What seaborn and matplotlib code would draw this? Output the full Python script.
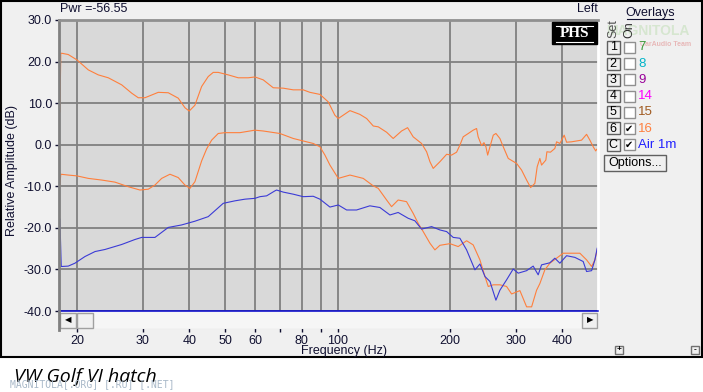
import numpy as np
import pandas as pd
import seaborn as sns
import matplotlib
matplotlib.use("Agg")
import matplotlib.pyplot as plt
from matplotlib.patches import Rectangle
from matplotlib.lines import Line2D
from matplotlib.ticker import NullLocator

# upper orange trace
freq_top = [18.0, 18.1, 18.2, 18.95, 20.0, 21.45, 22.81, 24.27, 26.36, 28.04, 29.2, 30.43,
            33.04, 35.14, 37.37, 38.95, 40.0, 41.43, 43.18, 44.98, 46.39, 47.84, 50.88,
            54.13, 57.58, 60.0, 63.16, 67.19, 71.47, 76.03, 80.85, 84.26, 89.65, 94.36,
            98.3, 100.4, 107.9, 114.7, 119.6, 124.6, 128.5, 135.3, 140.9, 148.4, 154.0,
            159.4, 167.9, 173.2, 176.8, 180.4, 188.0, 196.0, 202.0, 208.4, 212.7, 217.1,
            224.0, 230.9, 235.8, 238.1, 243.2, 246.8, 249.8, 252.5, 256.1, 261.4, 265.7,
            272.3, 278.0, 286.7, 301.9, 311.3, 321.1, 329.2, 337.9, 342.8, 348.5, 352.2,
            361.6, 364.0, 372.0, 382.3, 386.4, 394.3, 405.0, 411.0, 424.0, 437.2, 450.9,
            465.0, 474.6, 484.5, 492.0, 495.0]
db_top = [7.9, 22.0, 22.0, 21.7, 20.4, 18.0, 16.8, 16.1, 14.4, 12.4, 11.3, 11.3,
          12.6, 12.5, 11.2, 8.9, 8.1, 9.5, 14.0, 16.4, 17.4, 17.4, 16.8,
          16.1, 16.1, 16.3, 15.6, 13.7, 13.6, 13.2, 13.2, 12.6, 12.1, 10.3,
          7.1, 6.3, 8.2, 7.3, 6.3, 4.5, 4.3, 3.0, 1.5, 3.3, 4.1,
          1.9, 0.3, -1.7, -4.1, -5.7, -4.1, -2.3, -2.5, -1.8, -0.1, 1.9,
          2.7, 3.5, 3.9, 1.9, -0.2, 0.5, -0.5, -2.5, -0.5, 2.3, 2.7,
          1.5, -0.5, -3.3, -4.5, -6.1, -8.5, -10.3, -9.3, -5.3, -3.3, -4.9,
          -3.7, -1.7, -1.8, -0.9, 0.7, 0.3, 2.3, 0.6, 0.7, 0.9, 1.1,
          2.5, 1.1, -0.5, -1.5, -1.1]

# middle orange trace
freq_mid = [18.0, 18.1, 18.95, 20.0, 21.45, 23.3, 25.29, 27.45, 29.51, 31.06, 32.37, 33.74,
            35.51, 37.37, 38.95, 40.18, 41.43, 43.18, 44.54, 45.93, 47.84, 49.86, 54.7,
            60.0, 63.16, 70.0, 76.03, 80.85, 86.0, 89.65, 92.46, 95.35, 100.4, 107.9,
            117.1, 124.6, 128.5, 135.3, 139.5, 145.3, 153.0, 159.4, 164.4, 169.6, 176.8,
            182.3, 188.0, 200.0, 210.5, 221.7, 230.9, 240.7, 248.3, 253.4, 261.4, 272.3,
            283.8, 292.7, 308.1, 314.4, 321.1, 331.2, 341.5, 348.5, 359.4, 370.7, 386.4,
            402.5, 428.1, 446.2, 465.0, 479.7, 489.5, 496.5]
db_mid = [-9.7, -7.1, -7.3, -7.5, -8.1, -8.5, -9.0, -10.1, -10.9, -10.7, -9.7, -8.1,
          -7.1, -7.9, -9.7, -10.5, -8.9, -3.9, -1.0, 1.1, 2.7, 2.9, 2.9,
          3.5, 3.3, 2.7, 1.5, 0.9, 0.3, -0.5, -2.5, -4.9, -8.1, -7.3,
          -8.1, -9.9, -10.5, -13.3, -14.9, -13.3, -13.7, -16.5, -18.9, -20.9, -23.7,
          -25.3, -24.2, -23.8, -24.5, -23.1, -24.1, -27.7, -31.7, -34.1, -33.7, -33.7,
          -34.1, -35.9, -35.1, -37.0, -39.0, -39.0, -35.0, -33.4, -30.1, -28.5, -27.3,
          -26.1, -26.1, -26.1, -27.7, -29.3, -27.7, -25.3]

# blue trace (Air 1m)
freq_air = [18.0, 18.15, 18.95, 19.75, 21.01, 22.36, 23.78, 26.36, 28.61, 29.82, 32.37, 35.14,
            38.16, 41.43, 44.98, 49.34, 53.04, 56.42, 60.0, 61.88, 64.5, 67.89, 68.61,
            71.47, 76.03, 80.85, 86.0, 89.65, 95.35, 100.4, 105.7, 112.4, 122.0, 129.8,
            138.1, 145.3, 154.6, 161.1, 167.9, 178.6, 188.0, 196.0, 204.1, 212.7, 221.7,
            233.4, 240.7, 248.3, 256.1, 265.7, 272.3, 283.8, 295.6, 304.9, 321.1, 334.4,
            344.9, 352.2, 370.7, 382.3, 394.3, 411.0, 432.6, 455.4, 465.0, 479.7, 489.5,
            496.5]
db_air = [-17.9, -29.3, -29.2, -28.5, -26.9, -25.7, -25.2, -24.0, -22.8, -22.3, -22.3, -19.9,
          -19.3, -18.4, -17.3, -14.1, -13.5, -13.1, -12.9, -12.5, -12.3, -11.1, -10.9,
          -11.4, -11.9, -12.5, -12.4, -13.1, -15.0, -14.5, -15.7, -15.7, -14.7, -15.1,
          -16.9, -16.3, -17.7, -18.3, -20.3, -19.7, -20.5, -20.9, -22.3, -22.5, -25.3,
          -30.1, -28.7, -31.7, -32.9, -37.4, -35.0, -32.5, -29.9, -30.9, -30.3, -29.2,
          -31.3, -28.9, -28.4, -27.3, -28.5, -26.7, -27.1, -28.1, -30.5, -30.3, -27.7,
          -24.9]

x_ticks = [20, 30, 40, 50, 60, 70, 80, 90, 100, 200, 300, 400]
x_labels = ["20", "30", "40", "50", "60", "", "80", "", "100", "200", "300", "400"]
y_ticks = [-40, -30, -20, -10, 0, 10, 20, 30]

overlay_sets = ["1", "2", "3", "4", "5", "6", "C"]
overlay_names = ["7", "8", "9", "14", "15", "16", "Air 1m"]
overlay_colors = ["#3a9a3a", "#00b4c8", "#990099", "#ff00ff", "#a05a20", "#ff8040", "#2020ff"]
overlay_on = [False, False, False, False, False, True, True]

df = pd.concat([
    pd.DataFrame({"freq": freq_top, "db": db_top, "trace": "top"}),
    pd.DataFrame({"freq": freq_mid, "db": db_mid, "trace": "mid"}),
    pd.DataFrame({"freq": freq_air, "db": db_air, "trace": "air"}),
])
palette = {"top": "#ff7f3c", "mid": "#ff7f3c", "air": "#3b3bd6"}

W, H = 703, 392
plt.rcParams['font.family'] = ['Liberation Sans', 'DejaVu Sans']
fig = plt.figure(figsize=(W / 100, H / 100), dpi=100)
fig.patch.set_facecolor('white')


def fx(x):
    return x / W


def fy(y):
    return 1 - y / H


def box(x0, y0, x1, y1, fc, ec, lw=1.0, z=1):
    fig.add_artist(Rectangle((fx(x0), fy(y1)), (x1 - x0) / W, (y1 - y0) / H,
                             transform=fig.transFigure, facecolor=fc, edgecolor=ec,
                             lw=lw, zorder=z))


# window frame
box(0.5, 0.5, 702, 357, '#f0f0f0', 'black', lw=1.5, z=-2)

ax = fig.add_axes([fx(59), fy(311), (598 - 59) / W, (311 - 20) / H])
ax.set_facecolor('#d9d9d9')
sns.lineplot(data=df, x="freq", y="db", hue="trace", palette=palette, estimator=None,
             sort=False, legend=False, lw=0.8, ax=ax)
ax.set_xscale('log')
ax.set_xlim(17.9, 499)
ax.set_ylim(-40, 30)
ax.set_xticks(x_ticks)
ax.set_xticklabels(x_labels)
ax.xaxis.set_minor_locator(NullLocator())
ax.set_yticks(y_ticks)
ax.set_yticklabels([f"{v:.1f}" for v in y_ticks])
ax.grid(True, color='#808080', lw=1.3)
ax.set_axisbelow(True)
ax.axhline(-40, color='#0000cc', lw=1.1, zorder=5, clip_on=False)
ax.tick_params(axis='both', labelsize=9, colors='#101030', length=3, width=1, pad=2)
ax.set_xlabel("")
ax.set_ylabel("")
ax.spines['bottom'].set_position(('outward', 12.5))
ax.spines['bottom'].set_color('#e2e2e2')
ax.spines['left'].set_color('#808080')
ax.spines['left'].set_linewidth(2)
ax.spines['top'].set_color('#909090')
ax.spines['top'].set_linewidth(2)
ax.spines['right'].set_color('white')
ax.spines['right'].set_linewidth(2)

# scrollbar strip
box(60, 312, 598, 328, '#f6f6f6', '#f6f6f6', lw=0.5)
fig.add_artist(Line2D([fx(59), fx(59)], [fy(311), fy(330)], transform=fig.transFigure,
                      color='#808080', lw=2))
box(60, 312.5, 76, 327.5, '#f0f0f0', '#a0a0a0')
box(77, 312.5, 93, 327.5, '#f0f0f0', '#a0a0a0')
box(582, 312.5, 597, 327.5, '#f0f0f0', '#a0a0a0')
fig.text(fx(68), fy(320), "\u25c0", fontsize=6, ha='center', va='center', family='DejaVu Sans')
fig.text(fx(590), fy(320), "\u25b6", fontsize=6, ha='center', va='center', family='DejaVu Sans')

fig.text(fx(344), fy(351), "Frequency (Hz)", fontsize=9, ha='center', va='center', color='#101030')
fig.text(fx(12), fy(170), "Relative Amplitude (dB)", fontsize=9, ha='center', va='center',
         rotation=90, color='#101030')
fig.text(fx(60), fy(9), "Pwr =-56.55", fontsize=9, ha='left', va='center', color='#101030')
fig.text(fx(598), fy(9), "Left", fontsize=9, ha='right', va='center', color='#101030')

# PHS badge
box(552, 22, 597, 44, 'black', 'black', z=3)
fig.text(fx(574.5), fy(33.5), "PHS", fontsize=11, ha='center', va='center', color='white',
         weight='bold', family='Liberation Serif', zorder=4)
for yy in (25.5, 41.5):
    fig.add_artist(Line2D([fx(556), fx(593)], [fy(yy), fy(yy)], transform=fig.transFigure,
                          color='white', lw=0.8, zorder=4))

# overlays panel
fig.text(fx(606), fy(31), "MAGNITOLA", fontsize=10, weight='bold', color='#d6e6d0',
         ha='left', va='center', zorder=0)
fig.text(fx(640), fy(44), "CarAudio Team", fontsize=5, weight='bold', color='#e8b8b8',
         ha='left', va='center', zorder=0)
fig.text(fx(650), fy(13), "Overlays", fontsize=9, ha='center', va='center', color='#101030')
fig.add_artist(Line2D([fx(627), fx(673)], [fy(19), fy(19)], transform=fig.transFigure,
                      color='#101030', lw=0.8))
fig.text(fx(613), fy(29), "Set", fontsize=9, rotation=90, ha='center', va='center', color='#505050')
fig.text(fx(629), fy(30), "On", fontsize=9, rotation=90, ha='center', va='center', color='#303030')

for i, (s, name, col, on) in enumerate(zip(overlay_sets, overlay_names, overlay_colors, overlay_on)):
    yc = 47.5 + i * 16.2
    box(606.5, yc - 6, 620, yc + 6, '#f0f0f0', '#606060')
    fig.text(fx(613.3), fy(yc), s, fontsize=9, ha='center', va='center', color='black')
    box(623.5, yc - 5.5, 635, yc + 5.5, 'white', '#909090')
    if on:
        fig.text(fx(629.3), fy(yc), "\u2714", fontsize=7, ha='center', va='center',
                 color='black', family='DejaVu Sans')
    fig.text(fx(638), fy(yc), name, fontsize=9.5, ha='left', va='center', color=col)

box(603.5, 155, 666, 170.5, '#f0f0f0', '#606060')
fig.text(fx(634.7), fy(162.8), "Options...", fontsize=9, ha='center', va='center', color='black')

# small zoom buttons
box(615, 346, 623, 354, '#f0f0f0', '#707070')
fig.text(fx(619), fy(350), "+", fontsize=6, ha='center', va='center', weight='bold')
box(691, 346, 699, 354, '#f0f0f0', '#707070')
fig.text(fx(695), fy(350), "-", fontsize=6, ha='center', va='center', weight='bold')

# caption and watermark under the window
fig.text(fx(14), fy(382), "VW Golf VI hatch", fontsize=14, style='italic', ha='left',
         va='baseline', color='black', family=['Open Sans', 'DejaVu Sans'])
fig.text(fx(10), fy(384), "MAGNITOLA[.ORG] [.RU] [.NET]", fontsize=7, ha='left', va='center',
         color='#a8b8c8', family='DejaVu Sans Mono')

fig.savefig("out.png", dpi=100, facecolor=fig.get_facecolor())
